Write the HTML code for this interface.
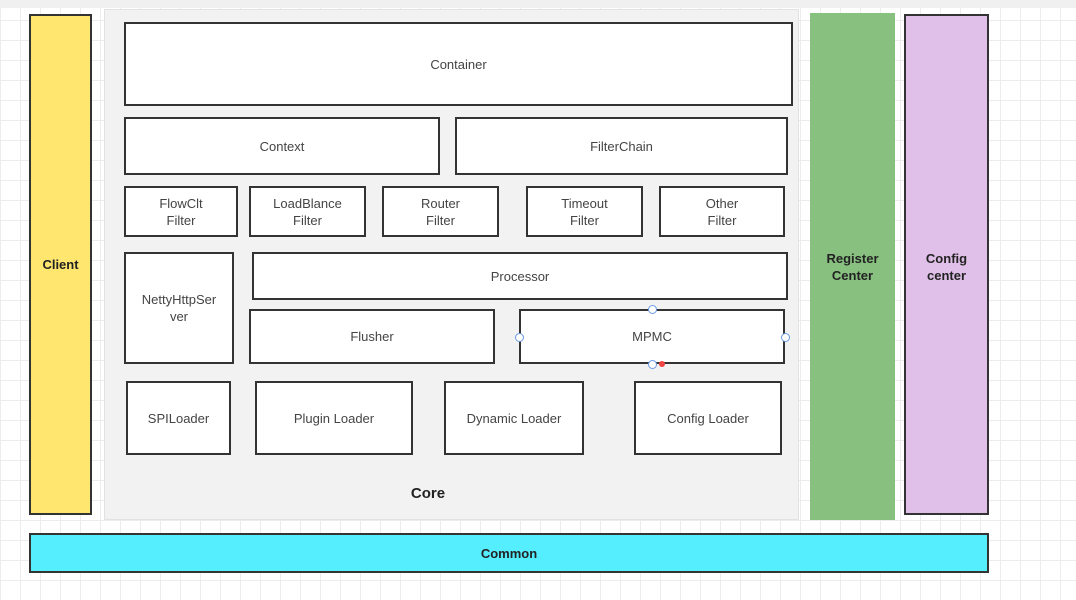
<!DOCTYPE html><html><head><style>
body{margin:0;width:1076px;height:600px;overflow:hidden;font-family:"Liberation Sans",sans-serif;
background-color:#fff;background-image:linear-gradient(#ececec 1px,transparent 1px),linear-gradient(90deg,#ececec 1px,transparent 1px);background-size:20px 20px;position:relative}
.b{position:absolute;box-sizing:border-box;border:2px solid #333;background:#fff;display:flex;align-items:center;justify-content:center;text-align:center;font-size:13px;color:#444;line-height:17px}
.h{font-weight:bold;color:#222}
.c{position:absolute;width:7px;height:7px;border:1px solid #6a9be8;border-radius:50%;background:#fff}
</style></head><body>
<div style="position:absolute;left:0;top:0;width:1076px;height:8px;background:#f0f0f0"></div>
<div style="position:absolute;left:104px;top:9px;width:695px;height:511px;background:#f2f2f2;border:1px solid #e2e2e2;box-sizing:border-box"></div>
<div class="b h" style="left:29px;top:14px;width:63px;height:501px;background:#ffe66e">Client</div>
<div class="b h" style="left:810px;top:13px;width:85px;height:507px;background:#88c080;border-color:#88c080">Register<br>Center</div>
<div class="b h" style="left:904px;top:14px;width:85px;height:501px;background:#e0c0e8;align-items:flex-start;padding-top:234px">Config<br>center</div>
<div class="b h" style="left:29px;top:533px;width:960px;height:40px;background:#55eeff">Common</div>
<div class="b" style="left:124px;top:22px;width:669px;height:84px">Container</div>
<div class="b" style="left:124px;top:117px;width:316px;height:58px">Context</div>
<div class="b" style="left:455px;top:117px;width:333px;height:58px">FilterChain</div>
<div class="b" style="left:124px;top:186px;width:114px;height:51px">FlowClt<br>Filter</div>
<div class="b" style="left:249px;top:186px;width:117px;height:51px">LoadBlance<br>Filter</div>
<div class="b" style="left:382px;top:186px;width:117px;height:51px">Router<br>Filter</div>
<div class="b" style="left:526px;top:186px;width:117px;height:51px">Timeout<br>Filter</div>
<div class="b" style="left:659px;top:186px;width:126px;height:51px">Other<br>Filter</div>
<div class="b" style="left:124px;top:252px;width:110px;height:112px">NettyHttpSer<br>ver</div>
<div class="b" style="left:252px;top:252px;width:536px;height:48px">Processor</div>
<div class="b" style="left:249px;top:309px;width:246px;height:55px">Flusher</div>
<div class="b" style="left:519px;top:309px;width:266px;height:55px">MPMC</div>
<div class="c" style="left:648px;top:305px"></div>
<div class="c" style="left:515px;top:333px"></div>
<div class="c" style="left:781px;top:333px"></div>
<div class="c" style="left:648px;top:360px"></div>
<div style="position:absolute;left:659px;top:361px;width:6px;height:6px;border-radius:50%;background:#e44"></div>
<div class="b" style="left:126px;top:381px;width:105px;height:74px">SPILoader</div>
<div class="b" style="left:255px;top:381px;width:158px;height:74px">Plugin Loader</div>
<div class="b" style="left:444px;top:381px;width:140px;height:74px">Dynamic Loader</div>
<div class="b" style="left:634px;top:381px;width:148px;height:74px">Config Loader</div>
<div style="position:absolute;left:400px;top:485px;width:56px;text-align:center;font-weight:bold;font-size:15px;color:#222">Core</div>
</body></html>
